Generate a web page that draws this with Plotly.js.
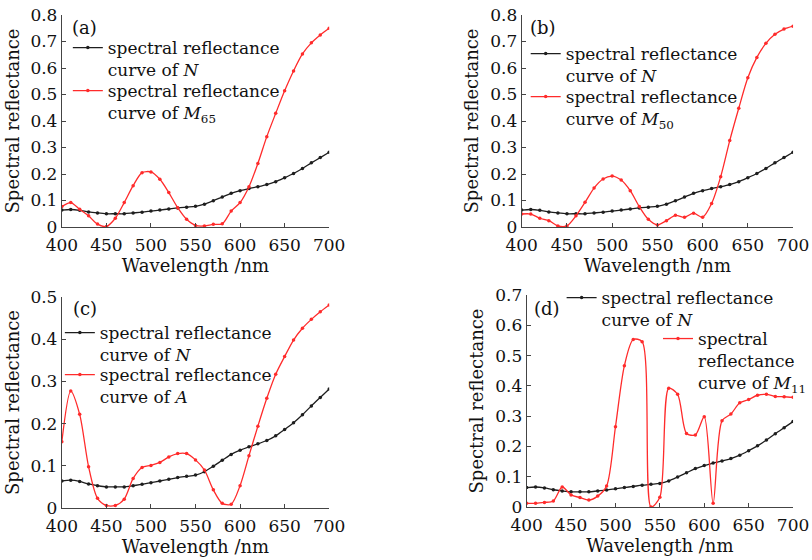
<!DOCTYPE html>
<html>
<head>
<meta charset="utf-8">
<script src="https://cdn.plot.ly/plotly-3.0.1.min.js"></script>
<style>html,body{margin:0;padding:0;background:#fff;}#chart{width:812px;height:560px;}</style>
</head>
<body>
<div id="chart"></div>
<script>
// Wavelength samples (nm)
const wavelength = [400,410,420,430,440,450,460,470,480,490,500,510,520,530,540,550,560,570,580,590,600,610,620,630,640,650,660,670,680,690,700];
// Spectral reflectance of N (same in all panels)
const reflN = [0.064,0.066,0.063,0.057,0.053,0.050,0.050,0.050,0.053,0.056,0.060,0.064,0.068,0.072,0.075,0.078,0.086,0.099,0.113,0.127,0.137,0.145,0.152,0.160,0.171,0.186,0.202,0.221,0.242,0.262,0.282];
// (a) M65
const reflM65 = [0.077,0.092,0.067,0.042,0.011,0.002,0.033,0.092,0.156,0.205,0.208,0.180,0.130,0.073,0.029,0.006,0.004,0.010,0.012,0.060,0.092,0.152,0.240,0.341,0.429,0.514,0.589,0.653,0.695,0.725,0.750];
// (b) M50
const reflM50 = [0.049,0.049,0.033,0.024,0.004,0.004,0.042,0.093,0.147,0.181,0.192,0.177,0.137,0.077,0.029,0.008,0.024,0.044,0.037,0.052,0.037,0.089,0.190,0.326,0.448,0.563,0.640,0.693,0.727,0.747,0.758];
// (c) A
const reflA = [0.157,0.277,0.222,0.098,0.023,0.006,0.006,0.021,0.070,0.096,0.101,0.108,0.121,0.129,0.129,0.114,0.090,0.043,0.011,0.009,0.053,0.124,0.194,0.260,0.317,0.359,0.398,0.426,0.447,0.465,0.481];
// (d) M11
const reflM11 = [0.012,0.012,0.015,0.020,0.066,0.040,0.031,0.023,0.036,0.069,0.265,0.466,0.553,0.546,0.000,0.032,0.392,0.372,0.243,0.238,0.298,0.012,0.285,0.307,0.344,0.355,0.369,0.372,0.365,0.364,0.362];

const panelLabels = ['(a)','(b)','(c)','(d)'];
const nameN = 'spectral reflectance<br>curve of <i>N</i>';
const nameM65 = 'spectral reflectance<br>curve of <i>M</i><sub>65</sub>';
const nameM50 = 'spectral reflectance<br>curve of <i>M</i><sub>50</sub>';
const nameA = 'spectral reflectance<br>curve of <i>A</i>';
const nameM11 = 'spectral<br>reflectance<br>curve of <i>M</i><sub>11</sub>';
const xTitle = 'Wavelength /nm';
const yTitle = 'Spectral reflectance';

const FONT = 'DejaVu Serif';
const BLACK = '#1e1e1e';
const RED = '#ff2b2b';

function tr(y, name, color, ax, legend) {
  return {
    x: wavelength, y: y, name: name, type: 'scatter', mode: 'lines+markers',
    xaxis: 'x' + ax, yaxis: 'y' + ax, legend: legend,
    line: {color: color, width: 1.3, shape: 'spline', smoothing: 0.8},
    marker: {color: color, size: 3.5}
  };
}

const data = [
  tr(reflN, nameN, BLACK, '', 'legend'),
  tr(reflM65, nameM65, RED, '', 'legend2'),
  tr(reflN, nameN, BLACK, '2', 'legend3'),
  tr(reflM50, nameM50, RED, '2', 'legend4'),
  tr(reflN, nameN, BLACK, '3', 'legend5'),
  tr(reflA, nameA, RED, '3', 'legend6'),
  tr(reflN, nameN, BLACK, '4', 'legend7'),
  tr(reflM11, nameM11, RED, '4', 'legend8')
];

const W = 812, H = 560;
function dx(a, b) { return [a / W, b / W]; }
function dy(top, bottom) { return [1 - bottom / H, 1 - top / H]; }

function xaxis(domain, anchor) {
  return {
    domain: domain, anchor: anchor, range: [400, 700], dtick: 50, tick0: 400,
    showline: true, linecolor: '#444', linewidth: 1, ticks: 'inside', ticklen: 4, tickcolor: '#444',
    showgrid: false, zeroline: false, fixedrange: true, ticklabelstandoff: 3,
    tickfont: {family: FONT, size: 17, color: '#111'},
    title: {text: xTitle, font: {family: FONT, size: 18, color: '#111'}, standoff: 3}
  };
}
function yaxis(domain, anchor, max) {
  return {
    domain: domain, anchor: anchor, range: [0, max], dtick: 0.1, tick0: 0,
    showline: true, linecolor: '#444', linewidth: 1, ticks: 'inside', ticklen: 4, tickcolor: '#444',
    showgrid: false, zeroline: false, fixedrange: true,
    tickfont: {family: FONT, size: 17, color: '#111'},
    title: {text: yTitle, font: {family: FONT, size: 18, color: '#111'}, standoff: 6}
  };
}
function legend(xpx, ypx) {
  return {
    x: xpx / W, y: 1 - ypx / H, xanchor: 'left', yanchor: 'top',
    bgcolor: 'rgba(0,0,0,0)', borderwidth: 0, valign: 'top', itemwidth: 30,
    font: {family: FONT, size: 17, color: '#111'}, tracegroupgap: 0
  };
}
function label(text, ax, xpx, ypx) {
  return {text: text, xref: 'paper', yref: 'paper', x: xpx / W, y: 1 - ypx / H,
    xanchor: 'center', yanchor: 'middle', showarrow: false,
    font: {family: FONT, size: 18, color: '#111'}};
}

const layout = {
  width: W, height: H, margin: {l: 0, r: 0, t: 0, b: 0},
  paper_bgcolor: '#fff', plot_bgcolor: '#fff', showlegend: true,
  font: {family: FONT, color: '#111'},
  xaxis: xaxis(dx(62, 330), 'y'),
  yaxis: yaxis(dy(15, 227), 'x', 0.8),
  xaxis2: xaxis(dx(523, 795), 'y2'),
  yaxis2: yaxis(dy(15, 227), 'x2', 0.8),
  xaxis3: xaxis(dx(62, 330), 'y3'),
  yaxis3: yaxis(dy(297, 508), 'x3', 0.5),
  xaxis4: xaxis(dx(528, 795), 'y4'),
  yaxis4: yaxis(dy(295, 507), 'x4', 0.7),
  legend: legend(68, 30),
  legend2: legend(68, 73),
  legend3: legend(527, 36),
  legend4: legend(527, 79),
  legend5: legend(60, 315),
  legend6: legend(60, 357),
  legend7: legend(563, 280),
  legend8: legend(660, 321),
  annotations: [
    label(panelLabels[0], '', 85, 27),
    label(panelLabels[1], '2', 544, 27),
    label(panelLabels[2], '3', 85, 308),
    label(panelLabels[3], '4', 548, 308)
  ]
};

Plotly.newPlot('chart', data, layout, {displayModeBar: false, staticPlot: true});
</script>
</body>
</html>
